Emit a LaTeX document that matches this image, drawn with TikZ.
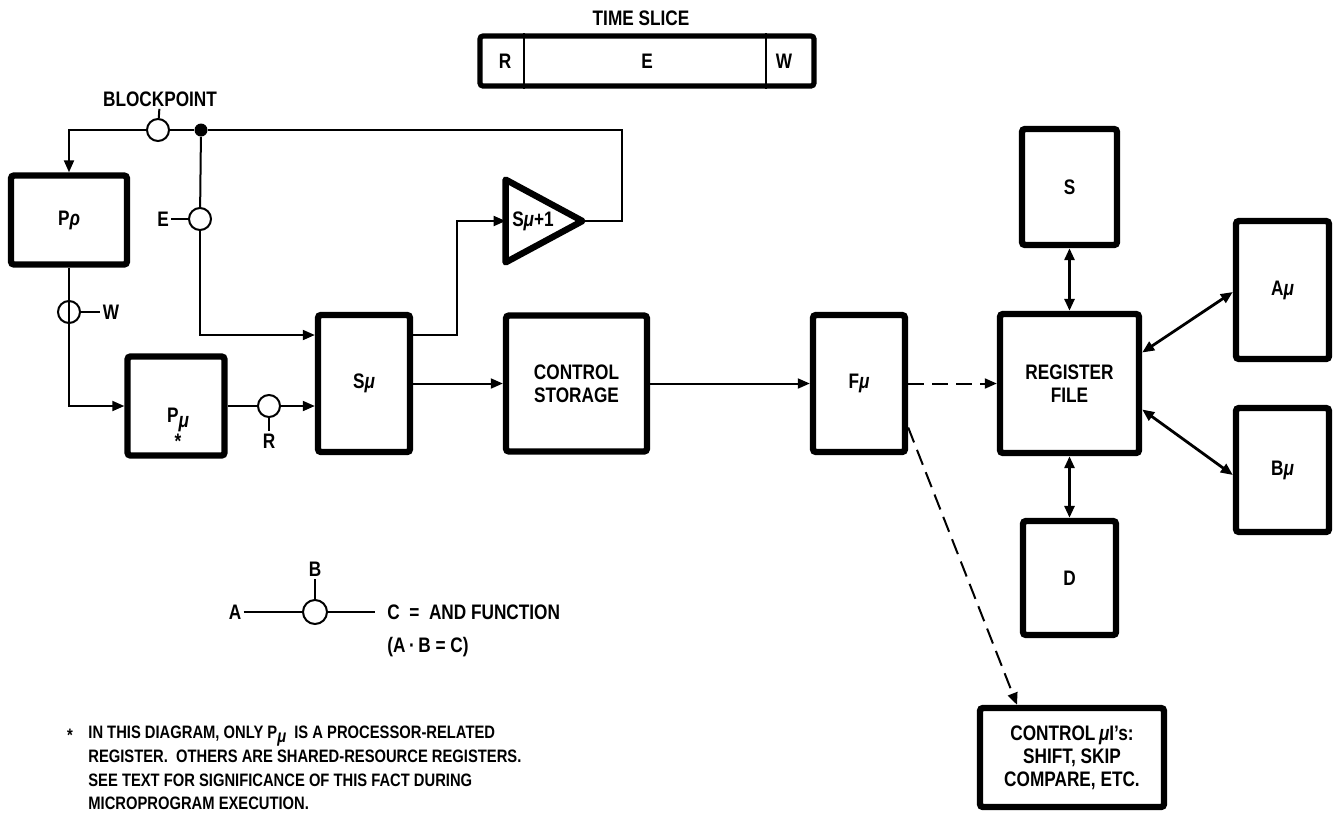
\documentclass[tikz,border=0pt]{standalone}
\usepackage{fontspec}
\setmainfont{Liberation Sans}[FakeStretch=0.82]
\usetikzlibrary{arrows.meta,calc}
\newcommand{\mymu}{\textit{μ}}
\newcommand{\myrho}{\textit{ρ}}

\begin{document}
\begin{tikzpicture}[x=0.5pt,y=-0.5pt,
	regbox/.style={draw,line width=3.2pt,rounded corners=1.5pt,inner sep=0pt,align=center,
		font=\bfseries\fontsize{10.5}{11.5}\selectfont},
	lbl/.style={inner sep=1pt,font=\bfseries\fontsize{10.5}{11.5}\selectfont},
	gate/.style={draw,circle,line width=1pt,fill=white,minimum size=11pt,inner sep=0pt},
	wire/.style={line width=1pt},
	busline/.style={line width=1.4pt},
	dashwire/.style={line width=1pt,dash pattern=on 8pt off 4pt},
	onearrow/.style={-{Triangle[length=6pt,width=5pt]}},
	twoarrow/.style={{Triangle[length=6pt,width=5pt]}-{Triangle[length=6pt,width=5pt]}}]
	\useasboundingbox (0,0) rectangle (1339,821);

	% time slice
	\node[lbl] (slicelbl) at (641,18) {TIME SLICE};
	\node[regbox,line width=2.6pt,minimum width=167pt,minimum height=25pt] (slice) at (647,61) {};
	\draw[wire] ($(slice.north west)+(47,0)$) -- ($(slice.south west)+(47,0)$);
	\draw[wire] ($(slice.north east)+(-51,0)$) -- ($(slice.south east)+(-51,0)$);
	\node[lbl] (sliceR) at (505,61) {R};
	\node[lbl] (sliceE) at (647,61) {E};
	\node[lbl] (sliceW) at (784,61) {W};

	% registers
	\node[regbox,minimum width=58pt,minimum height=44.5pt] (Prho) at (69,220) {P\myrho};
	\node[regbox,minimum width=48.5pt,minimum height=49.5pt] (Pmu) at (176,406) {};
	\node[lbl] (Pmulbl) at (178,420) {P\raisebox{-2.5pt}{\mymu}};
	\node[lbl] (Pmustar) at (178,441) {*};
	\node[regbox,minimum width=46pt,minimum height=68.5pt] (Smu) at (364,383.5) {S\mymu};
	\node[regbox,minimum width=70.5pt,minimum height=68pt] (CS) at (576.5,383.5) {CONTROL\\STORAGE};
	\node[regbox,minimum width=46pt,minimum height=68.5pt] (Fmu) at (859,383.5) {F\mymu};
	\node[regbox,minimum width=69.5pt,minimum height=69.5pt] (RF) at (1069.5,383.5) {REGISTER\\FILE};
	\node[regbox,minimum width=47.5pt,minimum height=58pt] (S) at (1069.5,187) {S};
	\node[regbox,minimum width=46.5pt,minimum height=57pt] (D) at (1069.5,578) {D};
	\node[regbox,minimum width=46.5pt,minimum height=69pt] (Amu) at (1282.5,290) {A\mymu};
	\node[regbox,minimum width=46.5pt,minimum height=62pt] (Bmu) at (1282.5,470) {B\mymu};
	\node[regbox,minimum width=92pt,minimum height=49.5pt] (Ctl) at (1072,757.5)
		{CONTROL\,\mymu I's:\\SHIFT, SKIP\\COMPARE, ETC.};

	% incrementer
	\node[minimum width=38pt,minimum height=41pt,inner sep=0pt] (Sinc) at (544,221) {};
	\draw[line width=3.2pt,line join=round] (Sinc.north west) -- (Sinc.east) -- (Sinc.south west) -- cycle;
	\node[lbl] (Sinclbl) at (533,221) {S\mymu+1};

	% gates
	\node[gate] (bp) at (158,130) {};
	\node[lbl] (bplbl) at (160,99) {BLOCKPOINT};
	\node[circle,fill,inner sep=0pt,minimum size=6.5pt] (dot) at (201,130) {};
	\coordinate (ret) at (622,130);
	\node[gate] (Egate) at (200,219) {};
	\node[lbl] (Elbl) at (163,219) {E};
	\node[gate,fill=none] (Wgate) at (69,312) {};
	\node[lbl] (Wlbl) at (111,312) {W};
	\node[gate] (Rgate) at (269,406) {};
	\node[lbl] (Rlbl) at (269,441) {R};

	% connections
	\draw[wire] (bp) -- (bplbl);
	\draw[wire,onearrow] (bp) -| (Prho.north);
	\draw[wire] (bp) -- (dot) -- (ret) |- (Sinc.east);
	\draw[wire] (dot) -- (Egate);
	\draw[wire] (Elbl) -- (Egate);
	\draw[wire,onearrow] (Egate) |- ($(Smu.west)+(0,-48.5)$);
	\draw[wire,onearrow] (Prho) |- (Pmu);
	\draw[wire] (Wgate) -- (Wlbl);
	\draw[wire] (Pmu) -- (Rgate);
	\draw[wire] (Rgate) -- (Rlbl);
	\draw[wire,onearrow] (Rgate) -- (Rgate -| Smu.west);
	\draw[wire,onearrow] ($(Smu.east)+(0,-48.5)$) -- ++(44,0) |- (Sinc.west);
	\draw[wire,onearrow] (Smu) -- (CS);
	\draw[wire,onearrow] (CS) -- (Fmu);
	\draw[dashwire,onearrow] (Fmu) -- (RF);
	\draw[dashwire,onearrow] ($(Fmu.east)+(0,44)$) -- ($(Ctl.north)+(-55,0)$);
	\draw[busline,twoarrow] (S) -- (RF);
	\draw[busline,twoarrow] (RF) -- (D);
	\draw[busline,twoarrow] ($(RF.east)+(0,-31)$) -- ($(Amu.west)+(0,2)$);
	\draw[busline,twoarrow] ($(RF.east)+(0,26)$) -- ($(Bmu.west)+(0,5)$);

	% legend
	\node[lbl] (Alb) at (235,612) {A};
	\node[gate,minimum size=12pt] (Lgate) at (315,612) {};
	\node[lbl] (Blb) at (315,569) {B};
	\coordinate (Cend) at (375,612);
	\node[lbl,anchor=west] (Clb) at (385,612) {C\ \ =\ \ AND FUNCTION};
	\node[lbl,anchor=west] (formula) at (385,647) {(A\,\textperiodcentered\,B = C)};
	\draw[wire] (Alb) -- (Lgate) -- (Cend);
	\draw[wire] (Lgate) -- (Blb);

	% footnote
	\node[lbl,font=\bfseries\fontsize{9}{11.8}\selectfont] (star) at (70,735) {*};
	\node[anchor=north west,align=left,inner sep=0pt,font=\bfseries\fontsize{9}{11.8}\selectfont] (note) at (88,726)
		{IN THIS DIAGRAM, ONLY P\raisebox{-2pt}{\mymu}\ \ IS A PROCESSOR-RELATED\\
		 REGISTER.\ \ OTHERS ARE SHARED-RESOURCE REGISTERS.\\
		 SEE TEXT FOR SIGNIFICANCE OF THIS FACT DURING\\
		 MICROPROGRAM EXECUTION.};
\end{tikzpicture}
\end{document}
